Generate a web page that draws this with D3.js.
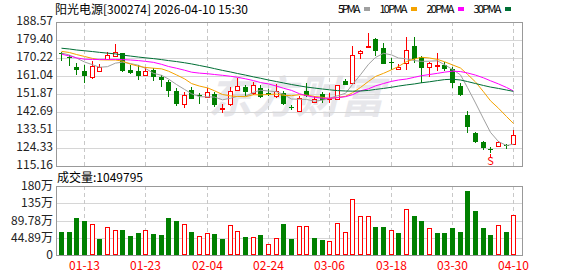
<!DOCTYPE html>
<html>
<head>
<meta charset="utf-8">
<script src="https://cdn.jsdelivr.net/npm/d3@7"></script>
<style>
  body { margin: 0; background: #fff; }
  svg { display: block; }
</style>
</head>
<body>
<svg></svg>
<script>
const width = 578;
const height = 276;

// trading days shown (MM-DD, 2026)
const dates = ["01-08","01-09","01-12","01-13","01-14","01-15","01-16","01-19","01-20","01-21",
  "01-22","01-23","01-26","01-27","01-28","01-29","01-30","02-02","02-03","02-04",
  "02-05","02-06","02-09","02-10","02-11","02-12","02-13","02-24","02-25","02-26",
  "02-27","03-02","03-03","03-04","03-05","03-06","03-09","03-10","03-11","03-12",
  "03-13","03-16","03-17","03-18","03-19","03-20","03-23","03-24","03-25","03-26",
  "03-27","03-30","03-31","04-01","04-02","04-03","04-07","04-08","04-09","04-10"];

const open = [172.9,170.7,165.6,163.7,160.7,163.4,169.6,171.2,172.8,163.9,
  163.7,161.8,164.1,160.7,157.8,153.6,146.6,153.9,151.6,150.5,
  151.9,144.5,146.8,153.9,155.6,152.6,154.9,152.6,150.6,152.2,
  145.3,143.2,153.4,148.0,151.7,149.3,149.2,158.5,157.3,172.6,
  176.1,179.9,175.1,168.3,164.6,167.5,176.1,170.9,165.5,166.4,
  166.6,164.8,155.9,141.2,132.1,127.6,123.8,125.4,125.9,126.2];
const high = [173.4,171.7,167.5,166.5,168.7,167.0,173.4,177.4,173.0,166.4,
  166.4,165.6,165.1,161.4,159.0,154.8,153.0,155.4,152.6,154.7,
  152.7,147.0,155.4,160.0,156.2,158.0,156.5,154.2,157.0,153.4,
  146.3,150.8,157.3,151.0,153.0,152.5,156.7,159.3,176.3,174.3,
  183.1,180.2,177.9,170.0,167.4,181.1,180.8,171.2,168.2,172.8,
  168.2,165.6,157.5,143.2,132.7,128.1,124.7,127.8,126.2,133.5];
const low = [168.7,166.1,161.4,157.6,159.7,163.1,169.2,170.5,163.2,162.2,
  159.2,161.4,158.5,155.6,150.1,145.7,144.6,149.1,146.8,149.8,
  145.4,142.0,145.5,153.4,150.8,151.4,149.8,151.1,149.8,146.3,
  143.7,143.2,150.5,147.1,147.4,147.1,148.8,156.2,156.9,169.7,
  175.8,171.0,167.2,164.1,164.3,164.1,167.8,157.5,160.7,163.8,
  163.5,154.9,151.0,131.8,127.0,123.3,121.6,124.7,123.7,126.2];
const close = [172.1,170.2,164.2,161.2,166.1,165.6,171.7,173.3,163.7,162.8,
  161.2,163.7,160.4,158.8,153.6,146.8,151.4,149.5,151.1,153.0,
  146.3,144.7,153.6,155.7,153.0,156.5,150.2,151.6,153.6,146.6,
  144.7,149.7,151.0,149.1,148.8,149.8,156.5,156.7,171.7,173.8,
  176.3,173.9,167.3,167.6,165.8,174.3,169.7,165.3,167.8,166.9,
  164.4,157.7,151.4,135.2,127.6,124.2,123.3,127.6,125.4,130.9];
const prevClose = 173.0;

// volume in 万 (10k lots)
const volume = [60.9,60.9,97.3,89.5,80.9,42.6,73.0,65.2,66.0,49.6,
  57.4,65.2,54.8,52.2,97.3,89.5,80.9,60.0,49.6,56.5,
  54.8,42.6,77.4,62.6,46.1,46.1,52.2,28.7,43.5,80.9,
  42.6,75.7,75.7,45.2,39.1,36.5,82.6,59.1,145.2,100.9,
  100.9,73.0,73.0,64.3,56.5,119.1,101.7,88.7,69.6,56.5,
  56.5,69.6,59.1,167.0,115.6,69.6,52.2,77.4,59.1,105.0];
const lastVolume = 1049795;

const ma5 = [172.8,171.7,170.2,168.2,166.8,165.5,165.8,167.6,168.1,167.4,
  166.5,164.9,162.4,161.4,159.5,156.7,154.2,152.0,150.5,150.4,
  150.3,148.9,149.7,150.7,150.7,152.7,153.8,153.4,153.0,151.7,
  149.3,149.2,149.1,148.2,148.7,149.7,151.0,152.2,156.7,161.7,
  167.0,170.5,172.6,171.8,170.2,169.8,168.9,168.5,168.6,168.8,
  166.8,164.4,161.6,155.1,147.3,139.2,132.3,127.6,125.6,126.3];
const ma10 = [173.6,173.0,172.0,171.0,170.0,169.3,169.2,169.2,168.6,167.1,
  166.0,165.4,165.0,164.7,163.5,161.6,159.6,157.2,155.9,155.0,
  153.5,151.6,150.9,150.6,150.5,151.5,151.4,151.6,151.8,151.2,
  151.0,151.5,151.3,150.6,150.2,149.5,150.1,150.7,152.5,155.2,
  158.3,160.8,162.4,164.2,165.9,168.4,169.7,170.6,170.2,169.5,
  168.3,166.7,165.1,161.9,158.0,153.0,148.4,144.6,140.4,136.8];
const ma20 = [172.2,171.2,170.3,169.6,169.5,169.5,169.5,169.5,169.4,169.2,
  168.9,168.5,168.0,167.0,165.9,165.0,164.0,163.0,162.5,162.2,
  161.8,161.4,160.9,160.4,159.6,158.7,157.7,157.0,155.9,154.8,
  153.7,152.0,151.0,150.2,149.7,149.7,150.0,150.5,151.5,153.5,
  154.5,156.0,157.2,158.3,159.0,159.5,160.4,161.2,161.8,162.4,
  163.0,163.5,163.3,162.6,161.5,160.1,158.6,157.0,155.2,153.4];
const ma30 = [175.2,174.8,174.3,173.9,173.5,173.1,172.7,172.3,171.7,171.2,
  170.7,170.3,169.9,169.4,168.9,168.4,167.8,167.2,166.4,165.6,
  164.8,163.9,163.1,162.3,161.5,160.6,159.9,159.0,158.2,157.5,
  156.7,156.0,155.4,154.9,154.4,154.0,153.6,153.4,153.3,153.4,
  153.7,154.2,154.7,155.3,155.9,156.5,157.0,157.6,158.1,158.7,
  159.2,159.4,159.0,158.2,157.2,156.2,155.4,154.7,153.9,153.2];

const priceTicks = [188.57,179.40,170.22,161.04,151.87,142.69,133.51,124.33,115.16];
const volTicks = [179.56,134.67,89.78,44.89,0];
const volTickLabels = ["180万","135万","89.78万","44.89万","0"];
const dateTicks = ["01-13","01-23","02-04","02-24","03-06","03-18","03-30","04-10"];

const maNames = ["5PMA","10PMA","20PMA","30PMA"];
const maColors = ["#a0a0a0","#f5a300","#ff00ff","#006f35"];
const maSeries = [ma5, ma10, ma20, ma30];

const left = 56, right = 522;
const pTop = 22, pBottom = 166;
const vTop = 186, vBottom = 255;
const font = "'Noto Sans CJK SC', 'DejaVu Sans', sans-serif";

const x = d3.scaleBand()
  .domain(dates)
  .range([57, 517])
  .paddingInner(0.35)
  .paddingOuter(0.175);
const cx = d => Math.round(x(d) + x.bandwidth() / 2);

const y = d3.scaleLinear().domain([115.16, 188.57]).range([pBottom, pTop]);
const yv = d3.scaleLinear().domain([0, 179.56]).range([vBottom, vTop]);

const svg = d3.select("svg")
  .attr("width", width)
  .attr("height", height)
  .style("font-family", font);

// watermark
svg.append("text")
  .attr("x", 208)
  .attr("y", 113)
  .attr("textLength", 176)
  .attr("font-size", 44)
  .attr("font-weight", "bold")
  .attr("font-style", "italic")
  .attr("fill", "#e7e7eb")
  .text("东方财富");

// grid
const grid = svg.append("g");
grid.selectAll("line.h")
  .data(priceTicks.slice(1, -1))
  .join("line")
  .attr("x1", left).attr("x2", right)
  .attr("y1", d => Math.round(y(d)) + 0.5)
  .attr("y2", d => Math.round(y(d)) + 0.5)
  .attr("stroke", "#d6d6d6");
grid.selectAll("line.vh")
  .data(volTicks.slice(1, -1))
  .join("line")
  .attr("x1", left).attr("x2", right)
  .attr("y1", d => Math.round(yv(d)) + 0.5)
  .attr("y2", d => Math.round(yv(d)) + 0.5)
  .attr("stroke", "#d6d6d6");

[[pTop, pBottom], [vTop, vBottom]].forEach(([t, b]) => {
  grid.append("g")
    .selectAll("line")
    .data(dateTicks)
    .join("line")
    .attr("x1", d => cx(d) + 0.5).attr("x2", d => cx(d) + 0.5)
    .attr("y1", t).attr("y2", b)
    .attr("stroke", "#c8c8c8")
    .attr("stroke-dasharray", "4,3");
});

// candles
const rows = dates.map((d, i) => ({ d, o: open[i], h: high[i], l: low[i], c: close[i] }));

const candle = svg.append("g")
  .selectAll("g")
  .data(rows)
  .join("g");

candle.append("line")
  .attr("x1", d => cx(d.d) + 0.5).attr("x2", d => cx(d.d) + 0.5)
  .attr("y1", d => Math.round(y(d.h)))
  .attr("y2", d => Math.round(y(d.l)))
  .attr("stroke", d => d.c >= d.o ? "#ff0000" : "#008000");

candle.append("rect")
  .attr("x", d => d.c >= d.o ? cx(d.d) - 1.5 : cx(d.d) - 2)
  .attr("width", d => d.c >= d.o ? 4 : 5)
  .attr("y", d => Math.round(y(Math.max(d.o, d.c))) + (d.c >= d.o ? 0.5 : 0))
  .attr("height", d => Math.max(1, Math.round(y(Math.min(d.o, d.c))) - Math.round(y(Math.max(d.o, d.c)))))
  .attr("fill", d => d.c >= d.o ? "#fff" : "#008000")
  .attr("stroke", d => d.c >= d.o ? "#ff0000" : "none");

// MA lines
maSeries.forEach((s, k) => {
  svg.append("path")
    .datum(s)
    .attr("fill", "none")
    .attr("stroke", maColors[k])
    .attr("stroke-width", 1)
    .attr("d", d3.line().x((d, i) => cx(dates[i]) + 0.5).y(d => y(d)));
});

// "S" flag under the low day
const sDay = "04-07";
const sIdx = dates.indexOf(sDay);
svg.append("line")
  .attr("x1", cx(sDay) + 0.5).attr("x2", cx(sDay) + 0.5)
  .attr("y1", Math.round(y(low[sIdx])) + 1).attr("y2", Math.round(y(low[sIdx])) + 4)
  .attr("stroke", "#ff0000");
svg.append("text")
  .attr("x", cx(sDay) + 0.5)
  .attr("y", 165)
  .attr("text-anchor", "middle")
  .attr("font-size", 11)
  .attr("fill", "#ff0000")
  .text("S");

// volume bars
const vol = svg.append("g")
  .selectAll("rect")
  .data(dates)
  .join("rect")
  .each(function(d, i) {
    const up = close[i] >= (i ? close[i - 1] : prevClose);
    const top = Math.round(yv(volume[i]));
    d3.select(this)
      .attr("x", up ? cx(d) - 1.5 : cx(d) - 2)
      .attr("width", up ? 4 : 5)
      .attr("y", up ? top + 0.5 : top)
      .attr("height", up ? vBottom - top - 1 : vBottom - top)
      .attr("fill", up ? "#fff" : "#008000")
      .attr("stroke", up ? "#ff0000" : "none");
  });

// panel borders
[[pTop, pBottom], [vTop, vBottom]].forEach(([t, b]) => {
  svg.append("rect")
    .attr("x", left + 0.5).attr("y", t + 0.5)
    .attr("width", right - left).attr("height", b - t)
    .attr("fill", "none")
    .attr("stroke", "#999");
});

// price axis labels
svg.append("g")
  .selectAll("text")
  .data(priceTicks)
  .join("text")
  .attr("x", 53)
  .attr("y", d => Math.round(y(d)) + 3)
  .attr("text-anchor", "end")
  .attr("font-size", 12)
  .attr("fill", "#222")
  .text(d => d.toFixed(2));

// volume axis labels
svg.append("g")
  .selectAll("text")
  .data(volTicks)
  .join("text")
  .attr("x", 53)
  .attr("y", d => Math.round(yv(d)) + 4)
  .attr("text-anchor", "end")
  .attr("font-size", 12)
  .attr("fill", "#222")
  .text((d, i) => volTickLabels[i]);

// date labels
svg.append("g")
  .selectAll("text")
  .data(dateTicks)
  .join("text")
  .attr("x", d => cx(d) + 0.5)
  .attr("y", 270)
  .attr("text-anchor", "middle")
  .attr("font-size", 12)
  .attr("fill", "#ff0000")
  .text(d => d);

// header
svg.append("text")
  .attr("x", 55)
  .attr("y", 14)
  .attr("font-size", 12)
  .attr("fill", "#000")
  .text("阳光电源[300274] 2026-04-10 15:30");

svg.append("text")
  .attr("x", 57)
  .attr("y", 182)
  .attr("font-size", 12)
  .attr("fill", "#000")
  .text("成交量:" + lastVolume);

// legend
let lx = 338;
maNames.forEach((n, k) => {
  const w = n.length * 5.6;
  svg.append("text")
    .attr("x", lx)
    .attr("y", 13)
    .attr("font-size", 11)
    .attr("textLength", w)
    .attr("fill", "#000")
    .text(n);
  svg.append("rect")
    .attr("x", Math.round(lx + w + 4))
    .attr("y", 7)
    .attr("width", 6)
    .attr("height", 4)
    .attr("fill", maColors[k]);
  lx += w + 19;
});
</script>
</body>
</html>
